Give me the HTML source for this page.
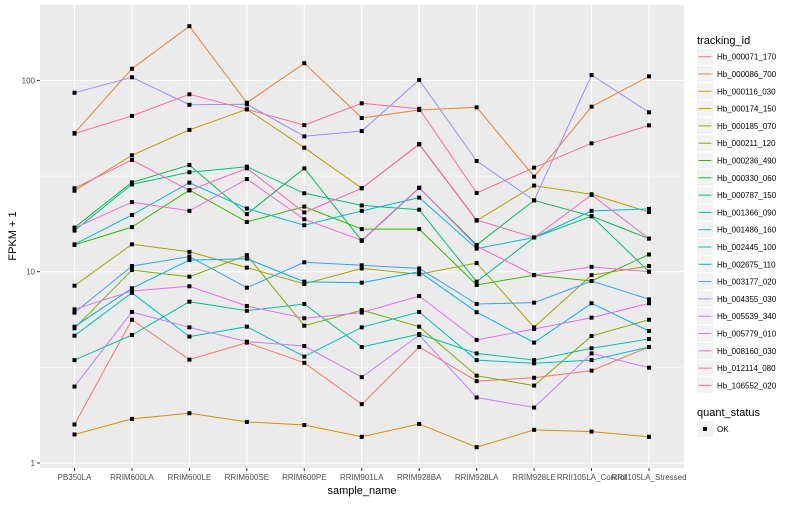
<!DOCTYPE html>
<html><head><meta charset="utf-8"><style>
body{margin:0;background:#fff;font-family:"Liberation Sans",sans-serif;}
svg text{font-family:"Liberation Sans",sans-serif;}
</style></head><body>
<svg id="chart" width="800" height="500">
<rect x="40" y="5" width="644" height="463" fill="#ebebeb"/>
<g id="grid"></g><g id="lines"></g><g id="axes"></g><g id="legend"></g>
</svg>
<script>
const samples=["PB350LA","RRIM600LA","RRIM600LE","RRIM600SE","RRIM600PE","RRIM901LA","RRIM928BA","RRIM928LA","RRIM928LE","RRII105LA_Control","RRII105LA_Stressed"];
const ids=["Hb_000071_170","Hb_000086_700","Hb_000116_030","Hb_000174_150","Hb_000185_070","Hb_000211_120","Hb_000236_490","Hb_000330_060","Hb_000787_150","Hb_001366_090","Hb_001486_160","Hb_002445_100","Hb_002675_110","Hb_003177_020","Hb_004355_030","Hb_005539_340","Hb_005779_010","Hb_008160_030","Hb_012114_080","Hb_106552_020"];
const colors=["#F8766D","#EA8331","#D89000","#C09B00","#A3A500","#7CAE00","#39B600","#00BB4E","#00BF7D","#00C1A3","#00BFC4","#00BAE0","#00B0F6","#35A2FF","#9590FF","#C77CFF","#E76BF3","#FA62DB","#FF62BC","#FF6C91"];
const s000071=[1.59,5.61,3.47,4.26,3.34,2.03,4.04,2.68,2.79,3.04,4.04];
const s000086=[53.1,115,192,76.4,123,63.6,70,72.3,31.4,72.9,105];
const s000116=[1.41,1.70,1.82,1.64,1.58,1.37,1.60,1.21,1.49,1.46,1.37];
const s000174=[26.5,40.6,55.1,70.6,44.5,27.3,46.3,18.5,28.2,25.4,20.5];
const s000185=[8.45,13.9,12.7,10.5,8.63,10.4,9.7,11.1,5.12,9.6,10.7];
const s000211=[5.06,10.2,9.42,12.2,5.22,6.3,5.16,2.86,2.54,4.61,5.61];
const s000236=[13.8,17.1,26.7,18.2,21.9,16.7,16.7,8.52,9.6,8.94,12.3];
const s000330=[17.0,29.3,36.1,20.0,34.7,14.5,27.4,13.8,23.6,19.5,14.9];
const s000787=[16.4,28.6,33.1,35.4,25.7,22.2,21.1,8.87,15.1,19.5,10.0];
const s001366=[3.45,4.67,6.97,6.25,6.78,4.04,4.72,3.74,3.45,3.98,4.45];
const s001486=[4.63,7.76,4.58,5.16,3.6,5.12,6.16,3.45,3.32,3.45,4.04];
const s002445=[13.9,19.8,29.2,21.4,17.5,20.8,24.4,13.2,15.1,20.8,21.3];
const s002675=[5.16,8.19,11.5,11.7,8.87,8.76,10,6.14,4.26,6.84,4.9];
const s003177=[6.11,10.7,12.0,8.25,11.2,10.8,10.4,6.78,6.89,8.94,7.17];
const s004355=[86.2,103.8,74.6,75,51,54.4,100.5,37.9,23.6,106.7,68.1];
const s005539=[2.51,6.16,5.12,4.31,4.09,2.81,4.67,2.20,1.95,3.74,3.15];
const s005779=[6.36,7.93,8.39,6.62,5.71,6.11,7.46,4.40,5.02,5.75,6.84];
const s008160=[16.9,23.1,20.8,30.5,18.8,14.6,27.5,13.6,9.6,10.6,10.0];
const s012114=[27.3,38.4,26.6,34.7,20.4,27.3,46.5,18.6,15.1,25.2,14.9];
const s106552=[52.7,65.2,84.6,70.6,58.4,75.9,71.1,25.8,35,46.9,58.2];
const series=[s000071,s000086,s000116,s000174,s000185,s000211,s000236,s000330,s000787,s001366,s001486,s002445,s002675,s003177,s004355,s005539,s005779,s008160,s012114,s106552];
const yTicks=[1,10,100];
const NS="http://www.w3.org/2000/svg";
function xs(i){return 74.5+i*57.45;}
function ys(v){return 271.7-(Math.log10(v)-1)*191.3;}
function mk(tag,attrs,parent,txt){const e=document.createElementNS(NS,tag);for(const k in attrs)e.setAttribute(k,attrs[k]);if(txt!==undefined)e.textContent=txt;parent.appendChild(e);return e;}
const grid=document.getElementById('grid'),lines=document.getElementById('lines'),axes=document.getElementById('axes'),legend=document.getElementById('legend');
[0.5,1.5].forEach(p=>{const y=ys(Math.pow(10,p));const g=mk('line',{x1:40,x2:684,y1:y,y2:y,stroke:'#fff','stroke-width':0.5},grid);

});
yTicks.forEach(t=>{const y=ys(t);const g=mk('line',{x1:40,x2:684,y1:y,y2:y,stroke:'#fff','stroke-width':1.1},grid);


const tk=mk('line',{x1:37,x2:40,y1:y,y2:y,stroke:'#333','stroke-width':1},axes);


const l=mk('text',{x:35,y:y+3,'text-anchor':'end','font-size':8,fill:'#4d4d4d'},axes,String(t));

});
samples.forEach((s,i)=>{const x=xs(i);const g=mk('line',{x1:x,x2:x,y1:5,y2:468,stroke:'#fff','stroke-width':1.1},grid);


const tk=mk('line',{x1:x,x2:x,y1:468,y2:471,stroke:'#333','stroke-width':1},axes);


const l=mk('text',{x:x,y:480,'text-anchor':'middle','font-size':8,fill:'#4d4d4d'},axes,s);

});
series.forEach((vals,si)=>{const pts=vals.map((v,i)=>xs(i).toFixed(1)+','+ys(v).toFixed(1)).join(' ');
const pl=mk('polyline',{points:pts,fill:'none',stroke:colors[si],'stroke-width':1},lines);

});
series.forEach((vals,si)=>{vals.forEach((v,i)=>{const r=mk('rect',{x:xs(i)-2,y:ys(v)-2,width:4,height:4,fill:'#000'},lines);

});});
let t=mk('text',{x:362,y:494,'text-anchor':'middle','font-size':11,fill:'#000'},axes,'sample_name');


t=mk('text',{x:0,y:0,'text-anchor':'middle','font-size':11,fill:'#000',transform:'translate(16,236) rotate(-90)'},axes,'FPKM + 1');


t=mk('text',{x:697,y:44,'font-size':11,fill:'#000'},legend,'tracking_id');


ids.forEach((id,i)=>{const cy=56.7+i*17.3;
const b=mk('rect',{x:697,y:cy-8,width:16,height:16,fill:'#f2f2f2'},legend);


const ln=mk('line',{x1:698.5,x2:711.5,y1:cy,y2:cy,stroke:colors[i],'stroke-width':1},legend);


const tx=mk('text',{x:717,y:cy+3,'font-size':8,fill:'#000'},legend,id);

});
t=mk('text',{x:697,y:416,'font-size':11,fill:'#000'},legend,'quant_status');


const qb=mk('rect',{x:697,y:421,width:16,height:16,fill:'#f2f2f2'},legend);


const qp=mk('rect',{x:703,y:427,width:4,height:4,fill:'#000'},legend);


t=mk('text',{x:717,y:432,'font-size':8,fill:'#000'},legend,'OK');


</script>
</body></html>
